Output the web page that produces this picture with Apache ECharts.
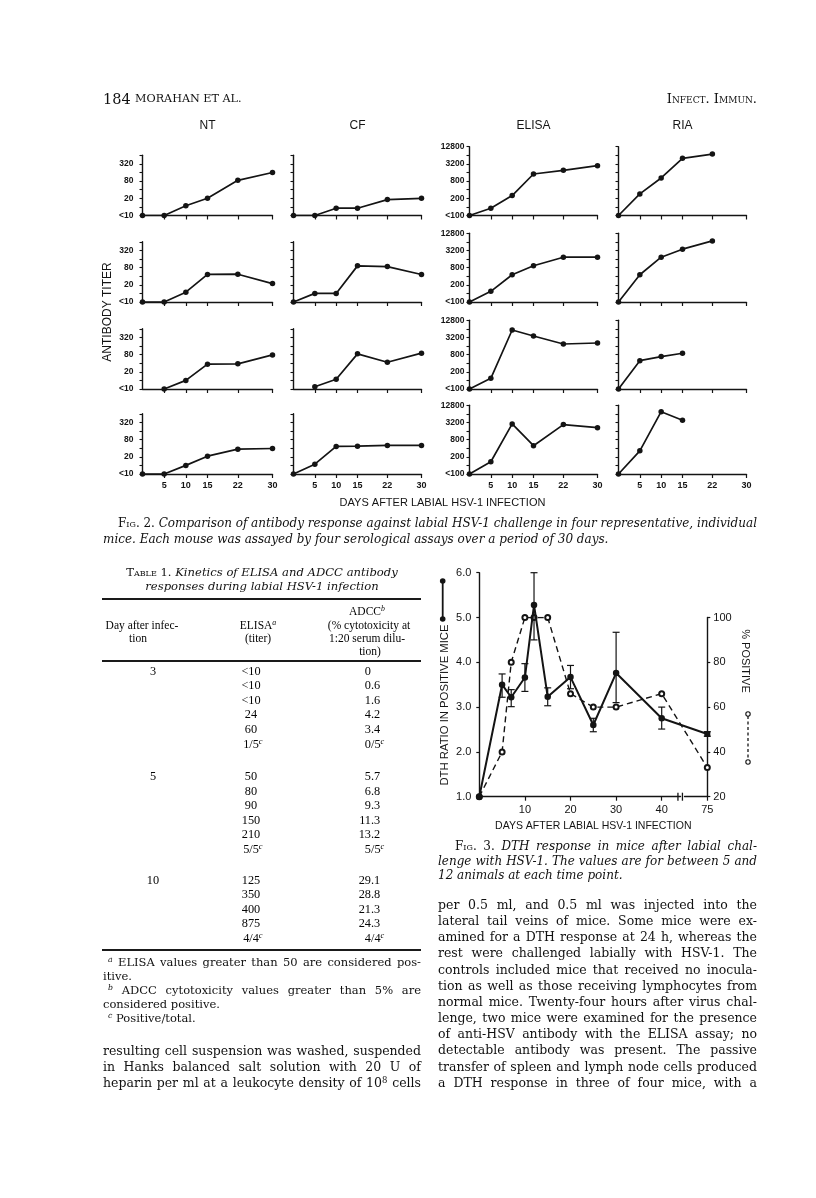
<!DOCTYPE html>
<html><head><meta charset="utf-8">
<script src="https://cdn.jsdelivr.net/npm/echarts@6.0.0/dist/echarts.min.js"></script>
<style>
html,body{margin:0;padding:0;background:#fff;}
#page{position:relative;width:816px;height:1198px;overflow:hidden;background:#fff;}
#chart{position:absolute;left:0;top:0;width:816px;height:1198px;}
#txt{position:absolute;left:0;top:0;width:816px;height:1198px;}
.ln{position:absolute;white-space:nowrap;font-family:"DejaVu Serif",serif;color:#111;}
.tb{font-family:"Liberation Serif","Times New Roman",serif;color:#050505;}
.sc{font-variant:small-caps;font-style:normal;}
.rule{position:absolute;background:#1a1a1a;}
sup{font-size:0.68em;line-height:0;vertical-align:0.5em;}
</style></head>
<body><div id="page"><div id="chart"></div><div id="txt"></div></div>
<script>
// ================= DATA =================
// Fig. 2 — antibody titers of four individual mice (rows) by four assays (columns)
const assayNames = ['NT', 'CF', 'ELISA', 'RIA'];
const fig2Days = [0, 5, 10, 15, 22, 30];
const fig2DayTicks = [5, 10, 15, 22, 30];
const ntTiter = [
  [5, 5, 11, 20, 85, 160],
  [5, 5, 11, 46, 47, 22],
  [null, 5, 10, 37, 38, 78],
  [5, 5, 10, 21, 37, 39]
];
const cfTiter = [
  [5, 5, 9, 9, 18, 20],
  [5, 10, 10, 92, 87, 46],
  [null, 6, 11, 85, 43, 90],
  [5, 11, 46, 47, 50, 50]
];
const elisaTiter = [
  [50, 90, 250, 1420, 1900, 2770],
  [50, 118, 450, 925, 1850, 1850],
  [50, 118, 5800, 3580, 1880, 2040],
  [50, 134, 2830, 490, 2680, 2090]
];
const riaTiter = [
  [50, 285, 1030, 5000, 7060, null],
  [50, 450, 1850, 3530, 6860, null],
  [50, 490, 680, 890, null, null],
  [50, 323, 7600, 3830, null, null]
];
const lowTiterTicks = [5, 10, 20, 40, 80, 160, 320, 640];
const lowTiterLabels = [5, 20, 80, 320];
const highTiterTicks = [50, 100, 200, 400, 800, 1600, 3200, 6400, 12800];
const highTiterLabels = [50, 200, 800, 3200, 12800];

// Fig. 3 — DTH response
const dthDays = [0, 5, 7, 10, 12, 15, 20, 25, 30, 40, 75];
const dthRatio = [1.0, 3.5, 3.22, 3.66, 5.28, 3.23, 3.67, 2.6, 3.76, 2.75, 2.4];
const dthHigh = [null, 3.74, 3.39, 3.97, 6.0, 3.43, 3.93, 2.75, 4.67, 3.0, 2.45];
const dthLow = [null, 3.22, 3.01, 3.35, 4.5, 3.03, 3.41, 2.45, 3.1, 2.51, 2.35];
const pctPositive = [20, 40, 80, 100, 100, 100, 66, 60, 60, 66, 33];
const fig3DayTicks = [10, 20, 30, 40, 75];

// Table 1
const tableDays = ['3', '5', '10'];
const tableElisa = [
  ['<10', '<10', '<10', '24', '60', '1/5'],
  ['50', '80', '90', '150', '210', '5/5'],
  ['125', '350', '400', '875', '4/4']
];
const tableAdcc = [
  ['0', '0.6', '1.6', '4.2', '3.4', '0/5'],
  ['5.7', '6.8', '9.3', '11.3', '13.2', '5/5'],
  ['29.1', '28.8', '21.3', '24.3', '4/4']
];

// ================= CHARTS =================
const titers = [ntTiter, cfTiter, elisaTiter, riaTiter];
const FONT = '"Liberation Sans", Arial, sans-serif';
const INK = '#141414';
const colLeft = [142.5, 293.5, 469.5, 618.5];
const colWidth = [130, 128, 128, 128];
const rowBottom = [215.5, 302, 389, 474];
const pxPerDoubling = 8.6;

const grids = [], xAxes = [], yAxes = [], series = [];
for (let r = 0; r < 4; r++) {
  for (let c = 0; c < 4; c++) {
    const idx = grids.length;
    const high = c >= 2;
    const h = (high ? 8 : 7) * pxPerDoubling;
    grids.push({ left: colLeft[c], top: rowBottom[r] - h, width: colWidth[c], height: h });
    xAxes.push({
      gridIndex: idx, type: 'value', min: 0, max: 30,
      axisLine: { onZero: false, lineStyle: { color: INK, width: 1.4 } },
      axisTick: { show: true, customValues: fig2DayTicks, length: 4, lineStyle: { color: INK, width: 1.2 } },
      axisLabel: {
        show: r === 3, customValues: fig2DayTicks, margin: 7,
        fontSize: 9, fontWeight: 'bold', fontFamily: FONT, color: INK
      },
      splitLine: { show: false }
    });
    yAxes.push({
      gridIndex: idx, type: 'log', logBase: 2,
      min: high ? 49.999 : 4.9999, max: high ? 12800.1 : 640.01,
      axisLine: { show: true, onZero: false, lineStyle: { color: INK, width: 1.4 } },
      axisTick: { show: true, customValues: high ? highTiterTicks : lowTiterTicks, length: 3, lineStyle: { color: INK, width: 1.1 } },
      axisLabel: {
        show: c === 0 || c === 2,
        customValues: high ? highTiterLabels : lowTiterLabels,
        margin: high ? 5 : 9,
        fontSize: 8.5, fontWeight: 'bold', fontFamily: FONT, color: INK,
        formatter: high
          ? (v) => (v < 70 ? '<100' : String(Math.round(v)))
          : (v) => (v < 7 ? '<10' : String(Math.round(v)))
      },
      splitLine: { show: false }
    });
    const vals = titers[c][r];
    series.push({
      type: 'line', xAxisIndex: idx, yAxisIndex: idx,
      data: fig2Days.map((d, i) => [d, vals[i]]).filter(p => p[1] != null),
      symbol: 'circle', symbolSize: 5.5,
      itemStyle: { color: INK },
      lineStyle: { color: INK, width: 1.7 },
      silent: true
    });
  }
}

// Fig. 3 grids: 16 = DTH ratio (left axis 1.0-6.0), 17 = % positive (right axis 20-100)
const f3Left = 479.3, f3Width = 228, f3Bottom = 796.7, f3Unit = 44.8;
grids.push({ left: f3Left, top: f3Bottom - 5 * f3Unit, width: f3Width, height: 5 * f3Unit });
grids.push({ left: f3Left, top: f3Bottom - 4 * f3Unit, width: f3Width, height: 4 * f3Unit });
const breakCfg = [{ start: 44, end: 70, gap: '2%' }];
xAxes.push({
  gridIndex: 16, type: 'value', min: 0, max: 75,
  breaks: breakCfg, breakArea: { show: false },
  axisLine: { onZero: false, lineStyle: { color: INK, width: 1.4 } },
  axisTick: { customValues: fig3DayTicks, length: 4, lineStyle: { color: INK, width: 1.2 } },
  axisLabel: { customValues: fig3DayTicks, margin: 8, fontSize: 11, fontFamily: FONT, color: INK },
  splitLine: { show: false },
  name: 'DAYS AFTER LABIAL HSV-1 INFECTION', nameLocation: 'middle', nameGap: 24,
  nameTextStyle: { fontSize: 10.5, fontFamily: FONT, color: INK }
});
xAxes.push({
  gridIndex: 17, type: 'value', min: 0, max: 75,
  breaks: breakCfg, breakArea: { show: false }, show: false
});
yAxes.push({
  gridIndex: 16, type: 'value', min: 1, max: 6, interval: 1, position: 'left',
  axisLine: { show: true, onZero: false, lineStyle: { color: INK, width: 1.4 } },
  axisTick: { show: true, length: 3, lineStyle: { color: INK, width: 1.2 } },
  axisLabel: { margin: 8, fontSize: 11, fontFamily: FONT, color: INK, formatter: (v) => v.toFixed(1) },
  splitLine: { show: false }
});
yAxes.push({
  gridIndex: 17, type: 'value', min: 20, max: 100, interval: 20, position: 'right',
  axisLine: { show: true, onZero: false, lineStyle: { color: INK, width: 1.4 } },
  axisTick: { show: true, length: 3, lineStyle: { color: INK, width: 1.2 } },
  axisLabel: { margin: 6, fontSize: 11, fontFamily: FONT, color: INK },
  splitLine: { show: false }
});
series.push({
  type: 'line', xAxisIndex: 17, yAxisIndex: 17, z: 2,
  data: dthDays.map((d, i) => [d, pctPositive[i]]),
  symbol: 'emptyCircle', symbolSize: 5,
  itemStyle: { color: INK, borderWidth: 0.9 },
  lineStyle: { color: INK, width: 1.4, type: [6, 4] },
  silent: true
});
series.push({
  type: 'line', xAxisIndex: 16, yAxisIndex: 16, z: 3,
  data: dthDays.map((d, i) => {
    const p = { value: [d, dthRatio[i]] };
    if (i === dthDays.length - 1) { p.symbol = 'rect'; p.symbolSize = 6; }
    return p;
  }),
  symbol: 'circle', symbolSize: 6.5,
  itemStyle: { color: INK },
  lineStyle: { color: INK, width: 2 },
  silent: true
});
series.push({
  type: 'custom', xAxisIndex: 16, yAxisIndex: 16, z: 4, silent: true,
  data: dthDays.map((d, i) => [d, dthLow[i], dthHigh[i]]).filter(p => p[1] != null),
  renderItem: function (params, api) {
    const x = api.value(0);
    const lo = api.coord([x, api.value(1)]);
    const hi = api.coord([x, api.value(2)]);
    const w = 3.5;
    const st = { stroke: INK, lineWidth: 1.2 };
    return {
      type: 'group', children: [
        { type: 'line', shape: { x1: lo[0], y1: lo[1], x2: hi[0], y2: hi[1] }, style: st },
        { type: 'line', shape: { x1: hi[0] - w, y1: hi[1], x2: hi[0] + w, y2: hi[1] }, style: st },
        { type: 'line', shape: { x1: lo[0] - w, y1: lo[1], x2: lo[0] + w, y2: lo[1] }, style: st }
      ]
    };
  }
});

const chart = echarts.init(document.getElementById('chart'), null, { renderer: 'canvas' });
chart.setOption({ animation: false, grid: grids, xAxis: xAxes, yAxis: yAxes, series: series });

// Figure decorations (titles, axis names, legend glyphs, axis-break marks)
const gfx = [];
function gText(text, x, y, size, rot) {
  gfx.push({
    type: 'text', x: x, y: y, rotation: rot || 0, silent: true,
    style: { text: text, fontSize: size, fontFamily: FONT, fill: INK, align: 'center', verticalAlign: 'middle' }
  });
}
for (let c = 0; c < 4; c++) gText(assayNames[c], colLeft[c] + colWidth[c] / 2, 126, 12, 0);
gText('DAYS AFTER LABIAL HSV-1 INFECTION', 442.5, 503, 11, 0);
gText('ANTIBODY TITER', 108, 312, 12, Math.PI / 2);
gText('DTH RATIO IN POSITIVE MICE', 445, 705, 11.3, Math.PI / 2);
gText('% POSITIVE', 745, 661, 11, -Math.PI / 2);
// legend glyph: solid line with filled dots
gfx.push({ type: 'line', silent: true, shape: { x1: 442.7, y1: 581, x2: 442.7, y2: 619 }, style: { stroke: INK, lineWidth: 1.8 } });
gfx.push({ type: 'circle', silent: true, shape: { cx: 442.7, cy: 581, r: 2.8 }, style: { fill: INK } });
gfx.push({ type: 'circle', silent: true, shape: { cx: 442.7, cy: 619, r: 2.8 }, style: { fill: INK } });
// legend glyph: dashed line with open circles
gfx.push({ type: 'line', silent: true, shape: { x1: 748, y1: 716, x2: 748, y2: 760 }, style: { stroke: INK, lineWidth: 1.3, lineDash: [3, 2.5] } });
gfx.push({ type: 'circle', silent: true, shape: { cx: 748, cy: 714, r: 2.2 }, style: { fill: '#fff', stroke: INK, lineWidth: 1.1 } });
gfx.push({ type: 'circle', silent: true, shape: { cx: 748, cy: 762, r: 2.2 }, style: { fill: '#fff', stroke: INK, lineWidth: 1.1 } });
// break marks on the day axis
const bx = chart.convertToPixel({ xAxisIndex: 16 }, breakCfg[0].start);
if (isFinite(bx)) {
  gfx.push({ type: 'rect', silent: true, shape: { x: bx - 2, y: f3Bottom - 1.5, width: 4.5, height: 3 }, style: { fill: '#fff' } });
  gfx.push({ type: 'line', silent: true, shape: { x1: bx - 2, y1: f3Bottom - 4, x2: bx - 2, y2: f3Bottom + 4 }, style: { stroke: INK, lineWidth: 1.3 } });
  gfx.push({ type: 'line', silent: true, shape: { x1: bx + 2.5, y1: f3Bottom - 4, x2: bx + 2.5, y2: f3Bottom + 4 }, style: { stroke: INK, lineWidth: 1.3 } });
}
chart.setOption({ graphic: gfx });

// ================= PAGE TEXT =================
const layer = document.getElementById('txt');
const esc = (s) => s.replace(/&/g, '&amp;').replace(/</g, '&lt;');
function addLine(html, x, y, o) {
  o = o || {};
  const fs = o.size || 12;
  const lh = Math.round(fs * 1.25);
  const d = document.createElement('div');
  d.className = 'ln' + (o.cls ? ' ' + o.cls : '');
  d.style.fontSize = fs + 'px';
  d.style.lineHeight = lh + 'px';
  d.style.top = (y - lh / 2) + 'px';
  if (o.italic) d.style.fontStyle = 'italic';
  d.innerHTML = html;
  layer.appendChild(d);
  let w = d.getBoundingClientRect().width;
  if (o.justify) {
    const n = (d.textContent.match(/ /g) || []).length;
    if (n) d.style.wordSpacing = ((o.justify - w) / n) + 'px';
    w = o.justify;
  }
  let left = x;
  if (o.align === 'center') left = x - w / 2;
  else if (o.align === 'right') left = x - w;
  if (o.anchorSel) {
    const a = d.querySelector(o.anchorSel).getBoundingClientRect().width;
    left = o.mode === 'decimal' ? x - a : x - a / 2;
  }
  d.style.left = left + 'px';
  return d;
}
function rule(x, y, w, h) {
  const r = document.createElement('div');
  r.className = 'rule';
  r.style.left = x + 'px'; r.style.top = (y - h / 2) + 'px';
  r.style.width = w + 'px'; r.style.height = h + 'px';
  layer.appendChild(r);
}

// running head
addLine('184', 103, 99, { size: 14.5 });
addLine('MORAHAN ET AL.', 135, 99, { size: 11.2 });
addLine('<span class="sc">Infect. Immun.</span>', 757, 99, { size: 13, align: 'right' });

// Fig. 2 caption
addLine('<span class="sc">Fig.</span> 2. <i>Comparison of antibody response against labial HSV-1 challenge in four representative, individual</i>', 118, 523, { size: 12, justify: 639 });
addLine('<i>mice. Each mouse was assayed by four serological assays over a period of 30 days.</i>', 103, 539, { size: 12 });

// Table 1
addLine('<span class="sc">Table</span> 1. <i>Kinetics of ELISA and ADCC antibody</i>', 262, 572, { size: 11.6, align: 'center' });
addLine('<i>responses during labial HSV-1 infection</i>', 262, 586, { size: 11.6, align: 'center' });
rule(102, 599, 319, 2);
const TH = { size: 11.5, align: 'center', cls: 'tb' };
addLine('ADCC<sup><i>b</i></sup>', 367, 611, TH);
addLine('(% cytotoxicity at', 369, 624.5, TH);
addLine('1:20 serum dilu-', 367, 638, TH);
addLine('tion)', 370, 651, TH);
addLine('Day after infec-', 142, 624.5, TH);
addLine('tion', 138, 638, TH);
addLine('ELISA<sup><i>a</i></sup>', 258, 624.5, TH);
addLine('(titer)', 258, 638, TH);
rule(102, 661, 319, 1.2);
const groupStart = [671, 776.5, 880];
const rowStep = 14.6;
const TB = 12.3;
for (let g = 0; g < 3; g++) {
  addLine(esc(tableDays[g]), 153, groupStart[g], { size: TB, align: 'center', cls: 'tb' });
  for (let i = 0; i < tableElisa[g].length; i++) {
    const y = groupStart[g] + i * rowStep;
    const e = tableElisa[g][i];
    const eSup = e.indexOf('/') >= 0 ? '<sup><i>c</i></sup>' : '';
    addLine('<span class="m">' + esc(e) + '</span>' + eSup, 251, y, { size: TB, anchorSel: '.m', mode: 'center', cls: 'tb' });
    const a = tableAdcc[g][i];
    const m = a.match(/^([^./]*)(.*)$/);
    const aSup = a.indexOf('/') >= 0 ? '<sup><i>c</i></sup>' : '';
    addLine('<span class="ip">' + esc(m[1]) + '</span>' + esc(m[2]) + aSup, 371, y, { size: TB, anchorSel: '.ip', mode: 'decimal', cls: 'tb' });
  }
}
rule(102, 950, 319, 2);
addLine('<sup><i>a</i></sup> ELISA values greater than 50 are considered pos-', 108, 962, { size: 11.5, justify: 313 });
addLine('itive.', 103, 976, { size: 11.5 });
addLine('<sup><i>b</i></sup> ADCC cytotoxicity values greater than 5% are', 108, 990, { size: 11.5, justify: 313 });
addLine('considered positive.', 103, 1004, { size: 11.5 });
addLine('<sup><i>c</i></sup> Positive/total.', 108, 1018, { size: 11.5 });

// left column body text
const leftBody = [
  'resulting cell suspension was washed, suspended',
  'in Hanks balanced salt solution with 20 U of',
  'heparin per ml at a leukocyte density of 10<sup>8</sup> cells'
];
leftBody.forEach((t, i) => addLine(t, 103, 1051 + i * 16.1, { size: 12.5, justify: 318 }));

// Fig. 3 caption
addLine('<span class="sc">Fig.</span> 3. <i>DTH response in mice after labial chal-</i>', 455, 846, { size: 12, justify: 302 });
addLine('<i>lenge with HSV-1. The values are for between 5 and</i>', 438, 861, { size: 12, justify: 319 });
addLine('<i>12 animals at each time point.</i>', 438, 875.5, { size: 12 });

// right column body text
const rightBody = [
  'per 0.5 ml, and 0.5 ml was injected into the',
  'lateral tail veins of mice. Some mice were ex-',
  'amined for a DTH response at 24 h, whereas the',
  'rest were challenged labially with HSV-1. The',
  'controls included mice that received no inocula-',
  'tion as well as those receiving lymphocytes from',
  'normal mice. Twenty-four hours after virus chal-',
  'lenge, two mice were examined for the presence',
  'of anti-HSV antibody with the ELISA assay; no',
  'detectable antibody was present. The passive',
  'transfer of spleen and lymph node cells produced',
  'a DTH response in three of four mice, with a'
];
rightBody.forEach((t, i) => addLine(t, 438, 905 + i * 16.15, { size: 12.5, justify: 319 }));
</script></body></html>
